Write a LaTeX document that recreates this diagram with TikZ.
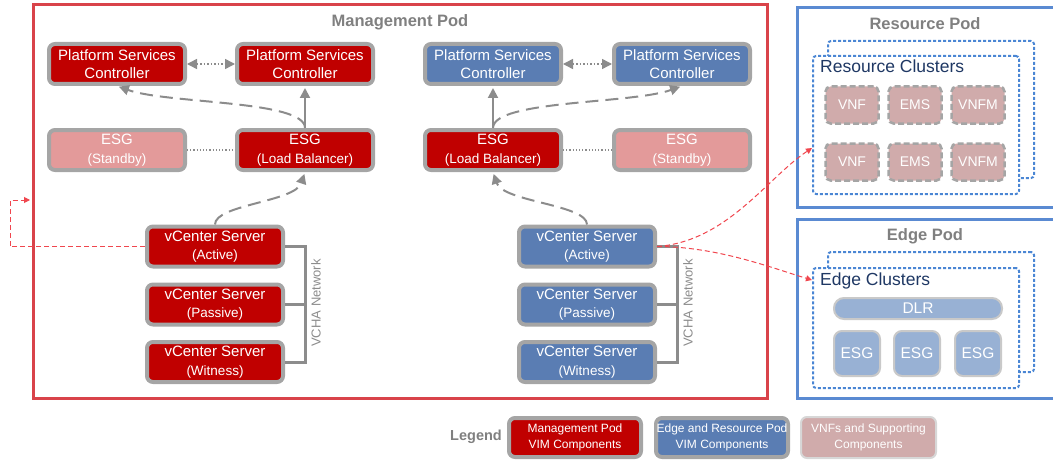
\documentclass[tikz,border=0pt]{standalone}
\usepackage{fontspec}
\setmainfont{Liberation Sans}
\usetikzlibrary{arrows.meta,positioning}

\definecolor{mgmtred}{HTML}{C00000}
\definecolor{vimblue}{HTML}{5A7DB3}
\definecolor{ringgray}{HTML}{A5A5A5}
\definecolor{standbyred}{HTML}{E39A9A}
\definecolor{vnfpink}{HTML}{D0ABAB}
\definecolor{edgeblue}{HTML}{98B1D4}
\definecolor{podred}{HTML}{D9434A}
\definecolor{podblue}{HTML}{5A8AD2}
\definecolor{titlegray}{HTML}{808080}
\definecolor{clusterblue}{HTML}{1F3864}
\definecolor{dotblue}{HTML}{4A86D4}
\definecolor{linkred}{HTML}{F0464E}
\definecolor{arrgray}{HTML}{8C8C8C}

\newcommand{\fs}[2]{\fontsize{#1}{#2}\selectfont}

\begin{document}
\begin{tikzpicture}[
  x=1pt, y=-1pt,
  >={Triangle[length=10pt,width=10pt]},
  comp/.style={draw=ringgray, line width=4pt, rounded corners=6pt, minimum width=136pt, minimum height=40pt, inner sep=0pt, align=center, text=white, font=\fs{15}{18.5}},
  pod/.style={draw, line width=3pt, inner sep=0pt},
  podtitle/.style={font=\fs{16.5}{18}\bfseries, text=titlegray, inner sep=0pt},
  cluster/.style={draw=dotblue, line width=2pt, dash pattern=on 3pt off 2pt, rounded corners=3pt, inner sep=0pt},
  clustertitle/.style={font=\fs{17.5}{18}, text=clusterblue, anchor=west, inner sep=0pt},
  vnf/.style={draw=ringgray, fill=vnfpink, line width=2.5pt, dash pattern=on 6pt off 3pt, rounded corners=5pt, minimum width=53pt, minimum height=37pt, inner sep=0pt, text=white, font=\fs{14}{15}},
  edgecomp/.style={draw=ringgray!60, fill=edgeblue, line width=2pt, rounded corners=8pt, minimum width=46pt, minimum height=45pt, inner sep=0pt, text=white, font=\fs{15.5}{16}},
  legendbox/.style={comp, minimum width=132pt, minimum height=39pt, font=\fs{12}{15.5}},
  dasharr/.style={->, draw=arrgray, line width=2pt, dash pattern=on 13pt off 7pt, shorten >=2pt},
  solidarr/.style={->, draw=arrgray, line width=2pt, shorten >=2pt},
  biarr/.style={<->, draw=arrgray, line width=1.5pt, dotted},
  standbyline/.style={draw=arrgray, line width=1.2pt, dotted},
  vcha/.style={draw=arrgray, line width=3pt},
  redlink/.style={-{Triangle[length=6pt,width=6pt]}, draw=linkred, line width=1pt, dash pattern=on 5pt off 3pt}
]
\clip (0,0) rectangle (1053,460);

% pods
\node[pod, draw=podred, minimum width=734pt, minimum height=393pt] (mpod) at (400,201.5) {};
\node[pod, draw=podblue, minimum width=273pt, minimum height=199pt] (rpod) at (933.5,107.5) {};
\node[pod, draw=podblue, minimum width=273pt, minimum height=179pt] (epod) at (933.5,308.5) {};
\node[podtitle] at (400,22) {Management Pod};
\node[podtitle] at (925,24) {Resource Pod};
\node[podtitle] at (925,236) {Edge Pod};

% management pod components
\node[comp, fill=mgmtred] (pscA) at (117,64) {Platform Services\\Controller};
\node[comp, fill=mgmtred] (pscB) at (305,64) {Platform Services\\Controller};
\node[comp, fill=vimblue] (pscC) at (493,64) {Platform Services\\Controller};
\node[comp, fill=vimblue] (pscD) at (682,64) {Platform Services\\Controller};

\node[comp, fill=standbyred] (esgA) at (117,150) {ESG\\{\fs{13.5}{18}(Standby)}};
\node[comp, fill=mgmtred] (esgB) at (305,150) {ESG\\{\fs{13.5}{18}(Load Balancer)}};
\node[comp, fill=mgmtred] (esgC) at (493,150) {ESG\\{\fs{13.5}{18}(Load Balancer)}};
\node[comp, fill=standbyred] (esgD) at (682,150) {ESG\\{\fs{13.5}{18}(Standby)}};

\node[comp, fill=mgmtred] (vcA) at (215,246.5) {vCenter Server\\{\fs{13.5}{18}(Active)}};
\node[comp, fill=mgmtred] (vcP) at (215,304.5) {vCenter Server\\{\fs{13.5}{18}(Passive)}};
\node[comp, fill=mgmtred] (vcW) at (215,362) {vCenter Server\\{\fs{13.5}{18}(Witness)}};
\node[comp, fill=vimblue] (vcBA) at (587,246.5) {vCenter Server\\{\fs{13.5}{18}(Active)}};
\node[comp, fill=vimblue] (vcBP) at (587,304.5) {vCenter Server\\{\fs{13.5}{18}(Passive)}};
\node[comp, fill=vimblue] (vcBW) at (587,362) {vCenter Server\\{\fs{13.5}{18}(Witness)}};

% clusters
\node[cluster, minimum width=206pt, minimum height=137pt] (rcB) at (931,109.5) {};
\node[cluster, fill=white, minimum width=206pt, minimum height=138pt] (rcF) at (916,125) {};
\node[clustertitle] at (820,66) {Resource Clusters};
\node[vnf] (vnfA) at (852,105) {VNF};
\node[vnf] (emsA) at (915,105) {EMS};
\node[vnf] (vnfmA) at (978,105) {VNFM};
\node[vnf] (vnfB) at (852,162) {VNF};
\node[vnf] (emsB) at (915,162) {EMS};
\node[vnf] (vnfmB) at (978,162) {VNFM};

\node[cluster, minimum width=206pt, minimum height=120pt] (ecB) at (931,312) {};
\node[cluster, fill=white, minimum width=206pt, minimum height=120pt] (ecF) at (916,328) {};
\node[clustertitle] at (820,281) {Edge Clusters};
\node[edgecomp, rounded corners=10pt, minimum width=168pt, minimum height=21pt] (dlr) at (918,308.5) {DLR};
\node[edgecomp] (eesgA) at (857,353.5) {ESG};
\node[edgecomp] (eesgB) at (917,353.5) {ESG};
\node[edgecomp] (eesgC) at (978,353.5) {ESG};

% legend
\node[font=\fs{14.5}{16}\bfseries, text=titlegray] (legend) at (476,437) {Legend};
\node[legendbox, fill=mgmtred] (lgM) at (575,437.5) {Management Pod\\VIM Components};
\node[legendbox, fill=vimblue] (lgE) at (722,437.5) {Edge and Resource Pod\\VIM Components};
\node[legendbox, fill=vnfpink, draw=ringgray!45, line width=2pt, minimum width=135pt, minimum height=41pt] (lgV) at (868.5,437.5) {VNFs and Supporting\\Components};

% connectors
\draw[biarr] (pscA.east) -- (pscB.west);
\draw[biarr] (pscC.east) -- (pscD.west);
\draw[standbyline] (esgA.east) -- (esgB.west);
\draw[standbyline] (esgC.east) -- (esgD.west);

\draw[solidarr] (esgB.north) -- (pscB.south);
\draw[dasharr] (esgB.north) .. controls +(0,-28) and +(50,18) .. (pscA.south);
\draw[dasharr] (vcA.north) .. controls +(0,-20) and +(-10,30) .. (esgB.south);

\draw[solidarr] (esgC.north) -- (pscC.south);
\draw[dasharr] (esgC.north) .. controls +(0,-28) and +(-50,18) .. (pscD.south);
\draw[dasharr] (vcBA.north) .. controls +(0,-20) and +(10,30) .. (esgC.south);

\draw[vcha] (vcA.east) -- ++(20,0) coordinate (vchaA) -- (vchaA |- vcW.east) -- (vcW.east);
\draw[vcha] (vcP.east) -- (vchaA |- vcP.east);
\node[rotate=90, font=\fs{13}{14}, text=arrgray] at (316,303) {VCHA Network};
\draw[vcha] (vcBA.east) -- ++(20,0) coordinate (vchaB) -- (vchaB |- vcBW.east) -- (vcBW.east);
\draw[vcha] (vcBP.east) -- (vchaB |- vcBP.east);
\node[rotate=90, font=\fs{13}{14}, text=arrgray] at (688,303) {VCHA Network};

\coordinate (loop) at (10,200);
\draw[redlink, shorten >=1.5pt] (vcA.west) -| (loop) -- (loop -| mpod.west);
\draw[redlink] (vcBA.east) .. controls +(70,-5) and +(-45,30) .. ([yshift=-23pt]rcF.west);
\draw[redlink] (vcBA.east) .. controls +(60,0) and +(-40,-12) .. ([yshift=-13pt]ecF.north west);

\end{tikzpicture}
\end{document}
